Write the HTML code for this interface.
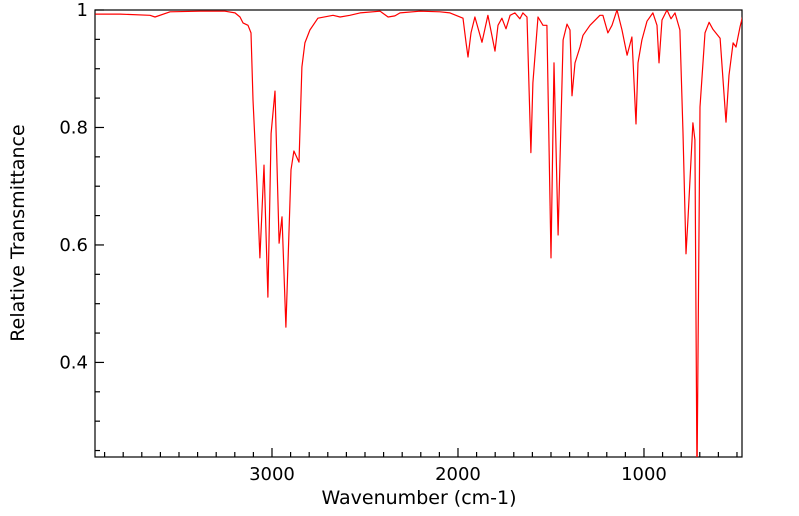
<!DOCTYPE html>
<html><head><meta charset="utf-8"><style>
body{margin:0;background:#fff;}
svg{display:block;font-family:"DejaVu Sans","Liberation Sans",sans-serif;}
</style></head><body>
<svg id="chart" width="799" height="516" viewBox="0 0 799 516" xmlns="http://www.w3.org/2000/svg">
<defs><clipPath id="plotclip"><rect x="95" y="10" width="647" height="447"/></clipPath></defs>
<g id="axes"></g>
<g id="series" clip-path="url(#plotclip)"></g>
<text x="419" y="504" text-anchor="middle" font-size="19">Wavenumber (cm-1)</text>
<text transform="translate(24,233) rotate(-90)" text-anchor="middle" font-size="19">Relative Transmittance</text>
</svg>
<script>
const wavenumbers = [3950,3817,3656,3629,3548,3387,3253,3199,3172,3156,3129,3113,3102,3081,3065,3043,3022,3005,2984,2962,2946,2925,2898,2882,2855,2839,2823,2796,2753,2672,2634,2581,2527,2419,2376,2339,2312,2204,2097,2043,1973,1957,1946,1930,1909,1871,1839,1801,1785,1764,1742,1720,1694,1667,1651,1629,1608,1597,1570,1543,1522,1500,1484,1462,1435,1414,1398,1387,1371,1344,1328,1290,1237,1221,1194,1172,1145,1118,1091,1065,1043,1032,1011,984,952,930,919,903,876,855,833,807,790,774,763,737,726,715,699,672,650,629,591,559,543,521,505,484,468];
const transmittance = [0.993,0.993,0.991,0.988,0.997,0.998,0.998,0.995,0.988,0.978,0.974,0.961,0.847,0.706,0.578,0.736,0.511,0.790,0.862,0.603,0.648,0.460,0.728,0.760,0.741,0.903,0.944,0.966,0.986,0.991,0.988,0.991,0.995,0.998,0.988,0.990,0.995,0.998,0.997,0.995,0.986,0.945,0.920,0.961,0.988,0.945,0.991,0.930,0.974,0.986,0.968,0.991,0.995,0.985,0.995,0.988,0.757,0.876,0.988,0.974,0.974,0.578,0.910,0.617,0.949,0.976,0.966,0.854,0.910,0.937,0.957,0.974,0.991,0.991,0.961,0.974,1.0,0.966,0.923,0.954,0.806,0.910,0.949,0.981,0.995,0.974,0.910,0.983,1.0,0.985,0.995,0.966,0.791,0.585,0.648,0.808,0.779,0.20,0.835,0.961,0.979,0.967,0.952,0.809,0.889,0.944,0.937,0.971,0.991];
const xMajorTicks = [3000,2000,1000];
const yMajorTicks = [0.4,0.6,0.8,1];

const NS="http://www.w3.org/2000/svg";
const L=95,R=742,T=10,B=457;
const X0=3951.6,X1=473;
const Y0=0.239,Y1=1.0;
function xs(w){return L+(X0-w)/(X0-X1)*(R-L);}
function ys(t){return B-(t-Y0)/(Y1-Y0)*(B-T);}
function mk(tag,attrs,parent){const e=document.createElementNS(NS,tag);for(const k in attrs)e.setAttribute(k,attrs[k]);parent.appendChild(e);return e;}
const axes=document.getElementById('axes');
const frame=mk('rect',{x:L,y:T,width:R-L,height:B-T,fill:'none',stroke:'#000','stroke-width':1.2},axes);


for(let w=500;w<=3900;w+=100){
  const x=xs(w); if(x<L||x>R)continue;
  const major=xMajorTicks.includes(w);
  const t=mk('line',{x1:x,x2:x,y1:B,y2:B-(major?9:5),stroke:'#000','stroke-width':1.2},axes);
  
  
}
xMajorTicks.forEach(w=>{
  const t=mk('text',{x:xs(w),y:B+23,'text-anchor':'middle','font-size':18},axes);
  t.textContent=String(w);
  
  
});
for(let i=5;i<=20;i++){
  const v=i*0.05; const y=ys(v); if(y<T-0.5||y>B)continue;
  const major=yMajorTicks.some(m=>Math.abs(m-v)<1e-6);
  const t=mk('line',{x1:L,x2:L+(major?9:5),y1:y,y2:y,stroke:'#000','stroke-width':1.2},axes);
  
  
}
yMajorTicks.forEach(v=>{
  const t=mk('text',{x:L-7,y:ys(v)+6,'text-anchor':'end','font-size':18},axes);
  t.textContent=(v===1?'1':v.toFixed(1));
  
  
});
const pts=wavenumbers.map((w,i)=>xs(w).toFixed(1)+','+ys(transmittance[i]).toFixed(1)).join(' ');
const line=mk('polyline',{points:pts,fill:'none',stroke:'#ff0000','stroke-width':1.2,'stroke-linejoin':'round'},document.getElementById('series'));


</script>
</body></html>
